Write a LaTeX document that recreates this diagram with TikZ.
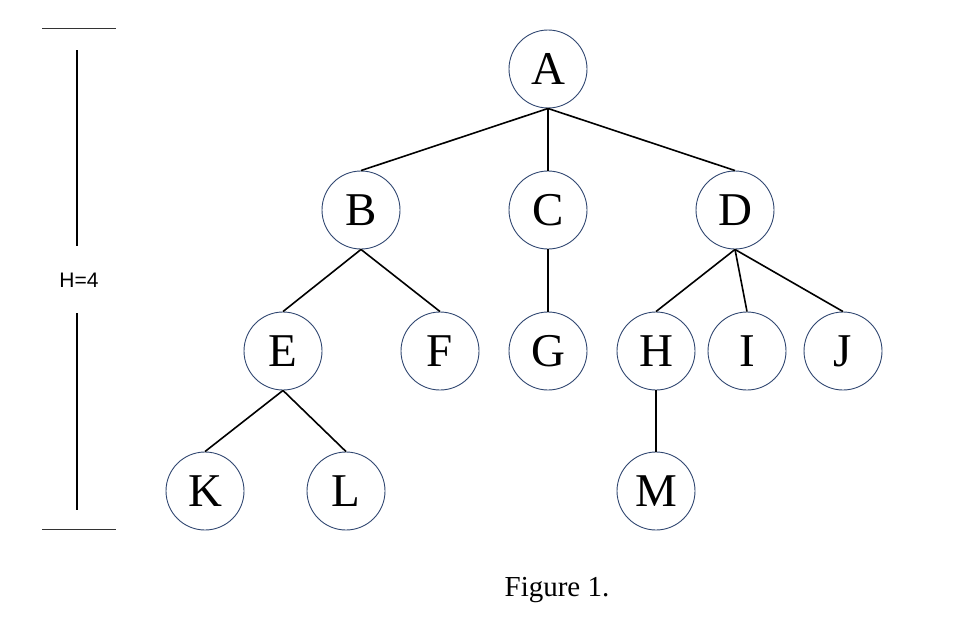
\documentclass[tikz,border=0pt]{standalone}
\usepackage{fontspec}
\setmainfont{Liberation Serif}
\newfontfamily\arialfont{Liberation Sans}
\definecolor{circlecol}{HTML}{2F4670}
\tikzset{
  tnode/.style={circle, draw=circlecol, line width=0.9pt, minimum size=78pt, inner sep=0pt,
    font=\fontsize{47}{47}\selectfont},
  edge/.style={line width=1.6pt, black},
  rule/.style={line width=1.4pt, black},
  thinrule/.style={line width=1pt, black!80}
}
\begin{document}
\begin{tikzpicture}[x=1pt,y=-1pt]
\useasboundingbox (0,0) rectangle (960,621);
\node[tnode] (A) at (548,69) {A};
\node[tnode] (B) at (361,210) {B};
\node[tnode] (C) at (548,210) {C};
\node[tnode] (D) at (735,210) {D};
\node[tnode] (E) at (283,351) {E};
\node[tnode] (F) at (440,351) {F};
\node[tnode] (G) at (548,351) {G};
\node[tnode] (H) at (656,351) {H};
\node[tnode] (I) at (747,351) {I};
\node[tnode] (J) at (843,351) {J};
\node[tnode] (K) at (205,491) {K};
\node[tnode] (L) at (346,491) {L};
\node[tnode] (M) at (656,491) {M};
\foreach \p/\c in {A/B,A/C,A/D,B/E,B/F,C/G,D/H,D/I,D/J,E/K,E/L,H/M}
  \draw[edge] (\p.south) -- (\c.north);
\coordinate (t1) at (42,28); \coordinate (t2) at (116,28);
\coordinate (b1) at (42,529); \coordinate (b2) at (116,529);
\draw[thinrule] (t1) -- (t2);
\draw[thinrule] (b1) -- (b2);
\node[font=\arialfont\fontsize{21}{21}\selectfont, inner sep=0pt] (h) at (79,280) {H=4};
\coordinate (v1) at (77,50); \coordinate (v2) at (77,246);
\coordinate (v3) at (77,313); \coordinate (v4) at (77,510);
\draw[rule] (v1) -- (v2);
\draw[rule] (v3) -- (v4);
\node[font=\fontsize{29}{29}\selectfont, inner sep=0pt] (cap) at (557,590) {Figure 1.};
\end{tikzpicture}
\end{document}
